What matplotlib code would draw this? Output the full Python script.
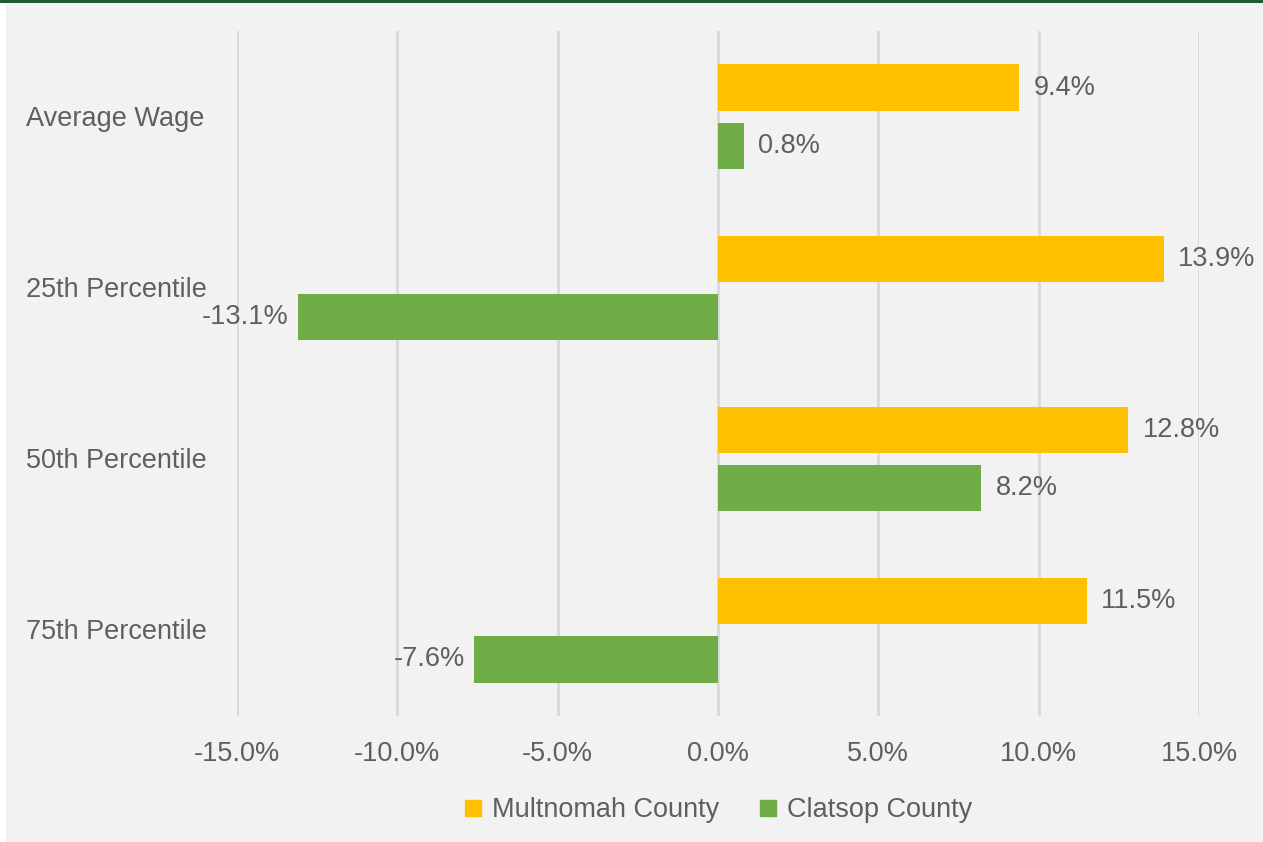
import matplotlib.pyplot as plt
import numpy as np
from matplotlib.patches import Rectangle
from matplotlib.lines import Line2D

plt.rcParams['font.family'] = ['Liberation Sans', 'DejaVu Sans']

categories = ['Average Wage', '25th Percentile', '50th Percentile', '75th Percentile']
multnomah = [9.4, 13.9, 12.8, 11.5]
clatsop = [0.8, -13.1, 8.2, -7.6]
series_names = ['Multnomah County', 'Clatsop County']
ticks = [-15, -10, -5, 0, 5, 10, 15]

yellow = '#FFC000'
green = '#70AD47'
text_col = '#5f5f5f'
fs = 19.5

W, H = 1263, 842
fig = plt.figure(figsize=(W / 100, H / 100), dpi=100)
fig.patch.set_facecolor('white')
# grey panel with a dark green strip on top
fig.add_artist(Rectangle((6 / W, 0), 1 - 6 / W, 1 - 2 / H, transform=fig.transFigure,
                         facecolor='#f2f2f2', edgecolor='none', zorder=-2))
fig.add_artist(Rectangle((0, 1 - 3 / H), 1, 3 / H, transform=fig.transFigure,
                         facecolor='#1e5b32', edgecolor='none', zorder=-1))

ax = fig.add_axes([237 / W, 1 - 716 / H, (1199 - 237) / W, (716 - 31) / H])
ax.set_facecolor('none')

y = np.arange(len(categories))
h = 0.27
off = 0.17
ax.barh(y - off, multnomah, height=h, color=yellow, zorder=3)
ax.barh(y + off, clatsop, height=h, color=green, zorder=3)

def label_bars(ys, vals):
    for yi, v in zip(ys, vals):
        if v >= 0:
            ax.text(v + 0.45, yi, f'{v:.1f}%', va='center', ha='left',
                    fontsize=fs, color=text_col)
        else:
            ax.text(v - 0.3, yi, f'{v:.1f}%', va='center', ha='right',
                    fontsize=fs, color=text_col)

label_bars(y - off, multnomah)
label_bars(y + off, clatsop)

ax.set_xlim(-15, 15)
ax.set_ylim(len(categories) - 0.5, -0.5)
ax.set_xticks(ticks)
ax.set_xticklabels([f'{t:.1f}%' for t in ticks])
ax.set_yticks(y)
ax.set_yticklabels([])
ax.tick_params(length=0, labelsize=fs, colors=text_col)
ax.tick_params(axis='x', pad=18)
ax.grid(axis='x', color='#d9d9d9', linewidth=2, zorder=0)
for s in ax.spines.values():
    s.set_visible(False)

# category names, left-aligned near the panel edge
for yi, name in zip(y, categories):
    ypix = ax.transData.transform((0, yi))[1] - 2
    fig.text(26 / W, ypix / fig.bbox.height, name, ha='left', va='center',
             fontsize=fs, color=text_col)

handles = [Line2D([], [], marker='s', linestyle='none', markersize=11, color=yellow),
           Line2D([], [], marker='s', linestyle='none', markersize=11, color=green)]
fig.legend(handles, series_names, loc='center', bbox_to_anchor=(716 / W, 1 - 810 / H),
           ncol=2, frameon=False, fontsize=fs, labelcolor=text_col,
           handletextpad=0.2, columnspacing=1.3, handlelength=1)

fig.savefig('out.png', dpi=100, facecolor=fig.get_facecolor())
